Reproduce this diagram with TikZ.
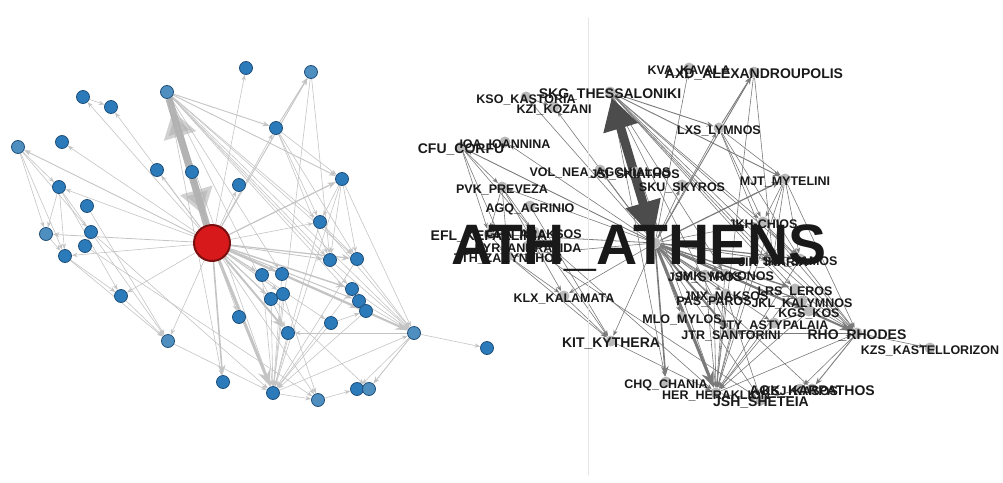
\documentclass[tikz,border=0pt]{standalone}
\usepackage{fontspec}
\setmainfont{Liberation Sans}
\usetikzlibrary{arrows.meta}

\definecolor{dotn}{HTML}{2B7BBA}
\definecolor{dotb}{HTML}{4F8FBF}
\definecolor{dotline}{HTML}{1F4F7A}
\definecolor{hubred}{HTML}{D7191C}
\definecolor{hubline}{HTML}{7A1010}
\definecolor{lnetgray}{HTML}{C4C4C4}
\definecolor{rnetgray}{HTML}{7A7A7A}

\pgfdeclarelayer{edges}
\pgfsetlayers{edges,main}

% id/x/y/label/kind (b = bigger label, lighter dot)
\newcommand\airports{%
  SKG/167/92/SKG\_THESSALONIKI/b, KSO/83/97/KSO\_KASTORIA/n, KZI/111/107/KZI\_KOZANI/n,
  KVA/246/68/KVA\_KAVALA/n, AXD/311/72/AXD\_ALEXANDROUPOLIS/b, LXS/276/128/LXS\_LYMNOS/n,
  CFU/18/147/CFU\_CORFU/b, IOA/62/142/IOA\_IOANNINA/n, VOL/157/170/VOL\_NEA\_AGCHIALOS/n,
  JSI/192/172/JSI\_SKIATHOS/n, SKU/239/185/SKU\_SKYROS/n, MJT/342/179/MJT\_MYTELINI/n,
  PVK/59/187/PVK\_PREVEZA/n, AGQ/87/206/AGQ\_AGRINIO/n, JKH/320/222/JKH-CHIOS/n,
  EFL/46/234/EFL\_KEFALLINIA/b, GPA/91/232/GPA\_ARAKSOS/n, PYR/85/246/PYR\_ANDRAVIDA/n,
  ZTH/65/256/ZTH\_ZAKYNTHOS/n, JIK/330/260/JIK\_IKARIA/n, SMI/357/259/SMI\_SAMOS/n,
  JSY/262/275/JSY\_SYROS/n, JMK/282/274/JMK\_MYKONOS/n, LRS/352/289/LRS\_LEROS/n,
  JNX/283/294/JNX\_NAKSOS/n, PAS/271/299/PAS\_PAROS/n, JKL/359/301/JKL\_KALYMNOS/n,
  KGS/366/311/KGS\_KOS/n, KLX/121/296/KLX\_KALAMATA/n, MLO/239/317/MLO\_MYLOS/n,
  JTY/331/323/JTY\_ASTYPALAIA/n, JTR/288/333/JTR\_SANTORINI/n, RHO/414/333/RHO\_RHODES/b,
  KZS/487/348/KZS\_KASTELLORIZON/n, KIT/168/341/KIT\_KYTHERA/b, CHQ/223/382/CHQ\_CHANIA/n,
  HER/273/393/HER\_HERAKLION/n, JSH/318/400/JSH\_SHETEIA/b, KSJ/357/389/KSJ\_KASOS/n,
  AOK/369/389/AOK\_KARPATHOS/b}

% from/to/width
\newcommand\flights{%
  ATH/CFU/0.9, ATH/EFL/0.8, ATH/IOA/0.6, ATH/KSO/0.6, ATH/KZI/0.6, ATH/VOL/0.6,
  ATH/JSI/0.6, ATH/KVA/0.6, ATH/AXD/0.9, ATH/LXS/0.6, ATH/SKU/0.6, ATH/MJT/1.2,
  ATH/JKH/0.6, ATH/JIK/0.8, ATH/SMI/1.2, ATH/JSY/0.8, ATH/JMK/1.2, ATH/JNX/0.8,
  ATH/PAS/0.8, ATH/MLO/0.6, ATH/JTR/2, ATH/JTY/0.6, ATH/LRS/1.4, ATH/JKL/1,
  ATH/KGS/1.6, ATH/RHO/2, ATH/HER/3, ATH/CHQ/1.6, ATH/JSH/0.6, ATH/KIT/0.6,
  ATH/KLX/0.6, ATH/PVK/0.6, ATH/ZTH/0.6, ATH/AOK/0.6,
  KSO/KZI/0.6, CFU/PVK/0.6, CFU/EFL/0.6, CFU/ZTH/0.6, CFU/GPA/0.6, PVK/EFL/0.6,
  PVK/ZTH/0.6, PVK/KLX/0.6, PVK/KIT/0.6, EFL/ZTH/0.6, ZTH/KLX/0.6, ZTH/KIT/0.6,
  AGQ/KIT/0.6, GPA/HER/0.6, KLX/KIT/0.6, KIT/HER/0.6, PYR/JSH/0.6,
  SKG/LXS/0.9, SKG/MJT/0.9, SKG/JKH/0.6, SKG/SMI/0.6, SKG/JMK/0.6, SKG/JTR/0.6,
  SKG/KGS/0.6, SKG/RHO/0.6, SKG/HER/0.6, SKG/CHQ/0.6, SKG/LRS/0.6, SKG/JIK/0.6,
  LXS/AXD/0.9, AXD/JIK/0.6, AXD/HER/0.6, LXS/MJT/0.6, LXS/JKH/0.6, LXS/JIK/0.6,
  LXS/SMI/0.6, MJT/JKH/0.6, MJT/SMI/0.6, MJT/JIK/0.6, MJT/HER/0.6, MJT/RHO/0.6,
  JKH/SMI/0.6, JKH/HER/0.6, JKH/RHO/0.6, SMI/RHO/0.6, SMI/HER/0.6, JIK/RHO/0.6,
  JMK/HER/0.6, JMK/RHO/0.6, JSY/HER/0.6, JNX/HER/0.6, PAS/HER/0.6, JTR/HER/0.6,
  JTY/HER/0.6, JTY/KGS/0.6, LRS/HER/0.6, KGS/HER/0.6, JKL/RHO/0.6, KGS/RHO/0.6,
  LRS/RHO/0.6, RHO/KZS/0.6, RHO/AOK/0.9, RHO/KSJ/0.6, HER/RHO/0.6, RHO/JTR/0.6,
  HER/JSH/0.6, JSH/KSJ/0.6, JNX/JSH/0.6, AOK/KSJ/0.6}

\newcommand\drawnet[2]{%
  \foreach \a/\b/\w in \flights
    \draw[#2, line width=\w pt] (#1\a) -- (#1\b);
}
\newcommand\lbl[1]{\bfseries\if b#1\fontsize{14}{14}\else\fontsize{12.5}{12.5}\fi\selectfont}

\begin{document}
\begin{tikzpicture}[x=1pt, y=-1pt, line cap=round, line join=round,
    ldot/.style={circle, draw=dotline, line width=0.8pt, minimum size=13pt, inner sep=0pt},
    rdot/.style={circle, fill=gray!55, minimum size=11pt, inner sep=0pt},
    lnet/.style={draw=lnetgray, -{Stealth}},
    rnet/.style={draw=rnetgray, -{Stealth}},
    lbl/.style={inner sep=0pt, text depth=0pt, yshift=-2pt, text=black!90}]
  \useasboundingbox (0,0) rectangle (1003,482);
  \draw[gray!20, line width=0.6pt] (588,18) -- (588,475);

  % left: network
  \node[ldot, minimum size=36pt, fill=hubred, draw=hubline, line width=2pt] (LATH) at (212,243) {};
  \foreach \n/\x/\y/\t/\k in \airports
    \node[ldot, fill=dot\k] (L\n) at (\x,\y) {};
  \begin{pgfonlayer}{edges}
    \drawnet{L}{lnet}
    \draw[gray!70, opacity=0.8, line width=7pt] (LSKG) -- (LATH);
    \draw[gray!60, opacity=0.6, line width=7pt, shorten <=13pt, shorten >=10pt,
      {Triangle[length=26pt,width=32pt]}-{Triangle[length=26pt,width=32pt]}] (LSKG) -- (LATH);
  \end{pgfonlayer}

  % right: same network, labelled
  \begin{scope}[xshift=443pt]
    \node[rdot] (RATH) at (212,243) {};
    \foreach \n/\x/\y/\t/\k in \airports
      \node[rdot] (R\n) at (\x,\y) {};
    \begin{pgfonlayer}{edges}
      \drawnet{R}{rnet}
      \draw[black!70, line width=9pt,
        {Triangle[length=32pt,width=34pt]}-{Triangle[length=36pt,width=34pt]}] (RSKG) -- (RATH);
    \end{pgfonlayer}
    \foreach \n/\x/\y/\t/\k in \airports
      \node[lbl, font=\lbl{\k}] (T\n) at (R\n) {\t};
    \node[lbl, xshift=-16pt, font=\bfseries\fontsize{57}{57}\selectfont] (TATH) at (RATH) {ATH\_ATHENS};
  \end{scope}
\end{tikzpicture}
\end{document}
